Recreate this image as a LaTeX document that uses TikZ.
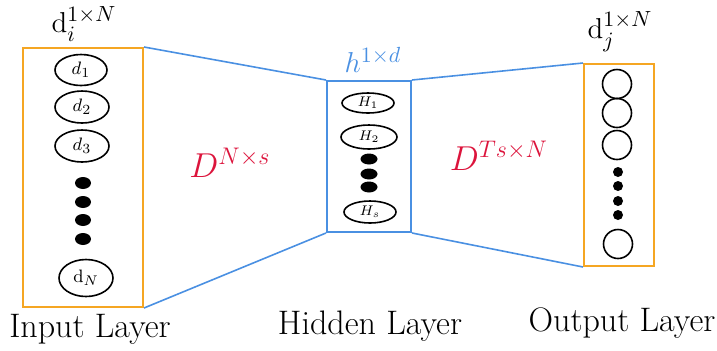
\documentclass[tikz,border=0pt]{standalone}
\usepackage{amsmath}
\usetikzlibrary{calc,shapes.geometric}

\definecolor{layerorange}{RGB}{245,166,35}
\definecolor{mapblue}{RGB}{74,144,226}
\definecolor{matred}{RGB}{220,20,60}

\begin{document}
\begin{tikzpicture}[
  x=0.5pt, y=-0.5pt,
  layer/.style={rectangle, line width=1pt, inner sep=0pt},
  unit/.style={ellipse, draw, line width=0.8pt, inner sep=0pt},
  blob/.style={ellipse, fill, inner sep=0pt},
  link/.style={draw=mapblue, line width=0.8pt},
  caption/.style={font=\fontsize{17}{20}\selectfont, anchor=base},
  dimlabel/.style={font=\fontsize{15}{17}\selectfont},
  matlabel/.style={text=matred, font=\fontsize{16.5}{18}\selectfont}
]
\useasboundingbox (0,0) rectangle (717,350);

% the three layers
\node[layer, draw=layerorange, minimum width=60pt, minimum height=129.5pt] (inbox) at (83,177.5) {};
\node[layer, draw=mapblue, minimum width=42pt, minimum height=75.5pt] (hidbox) at (369,156.5) {};
\node[layer, draw=layerorange, minimum width=35pt, minimum height=101pt] (outbox) at (619,165) {};

% encoder / decoder
\draw[link] (inbox.north east) -- (hidbox.north west);
\draw[link] (inbox.south east) -- (hidbox.south west);
\draw[link] (hidbox.north east) -- (outbox.north west);
\draw[link] (hidbox.south east) -- (outbox.south west);

% input units
\node[unit, minimum width=26pt, minimum height=15.5pt, font=\fontsize{9.5}{10}\selectfont] (d1) at (81,70) {$d_1$};
\node[unit, minimum width=27pt, minimum height=16pt, font=\fontsize{9.5}{10}\selectfont] (d2) at (82,107) {$d_2$};
\node[unit, minimum width=27pt, minimum height=16pt, font=\fontsize{9.5}{10}\selectfont] (d3) at (82,146) {$d_3$};
\foreach \y [count=\k] in {183,202,220,239}
  \node[blob, minimum width=8pt, minimum height=6pt] (idot\k) at (83,\y) {};
\node[unit, minimum width=27pt, minimum height=18.5pt, font=\fontsize{9.5}{10}\selectfont] (dN) at (86,278) {$\mathrm{d}_N$};

% hidden units
\node[unit, minimum width=26pt, minimum height=10pt, font=\fontsize{7}{7}\selectfont] (H1) at (368,103) {$H_1$};
\node[unit, minimum width=28pt, minimum height=12pt, font=\fontsize{7}{7}\selectfont] (H2) at (369,137) {$H_2$};
\foreach \y [count=\k] in {159,174,187}
  \node[blob, minimum width=8.5pt, minimum height=5.5pt] (hdot\k) at (369,\y) {};
\node[unit, minimum width=26pt, minimum height=11pt, font=\fontsize{7}{7}\selectfont] (Hs) at (370,212) {$H_s$};

% output units
\foreach \y [count=\k] in {84,113,145}
  \node[unit, circle, minimum size=14.5pt] (o\k) at (617,\y) {};
\foreach \y [count=\k] in {172,186,201,215}
  \node[blob, circle, minimum size=5pt] (odot\k) at (618,\y) {};
\node[unit, circle, minimum size=14.5pt] (oN) at (618,244) {};

% labels
\node[dimlabel] (dilab) at (84,24) {$\mathrm{d}_i^{1\times N}$};
\node[dimlabel] (djlab) at (620,32) {$\mathrm{d}_j^{1\times N}$};
\node[dimlabel, text=mapblue, font=\fontsize{15.5}{17}\selectfont] (hlab) at (373,60) {$h^{1\times d}$};
\node[matlabel] (enc) at (230,163) {$D^{N\times s}$};
\node[matlabel] (dec) at (499,156) {$D^{Ts\times N}$};

\node[caption] (incap) at (90,337) {Input Layer};
\node[caption] (hidcap) at (370,334) {Hidden Layer};
\node[caption] (outcap) at (622,331) {Output Layer};
\end{tikzpicture}
\end{document}
